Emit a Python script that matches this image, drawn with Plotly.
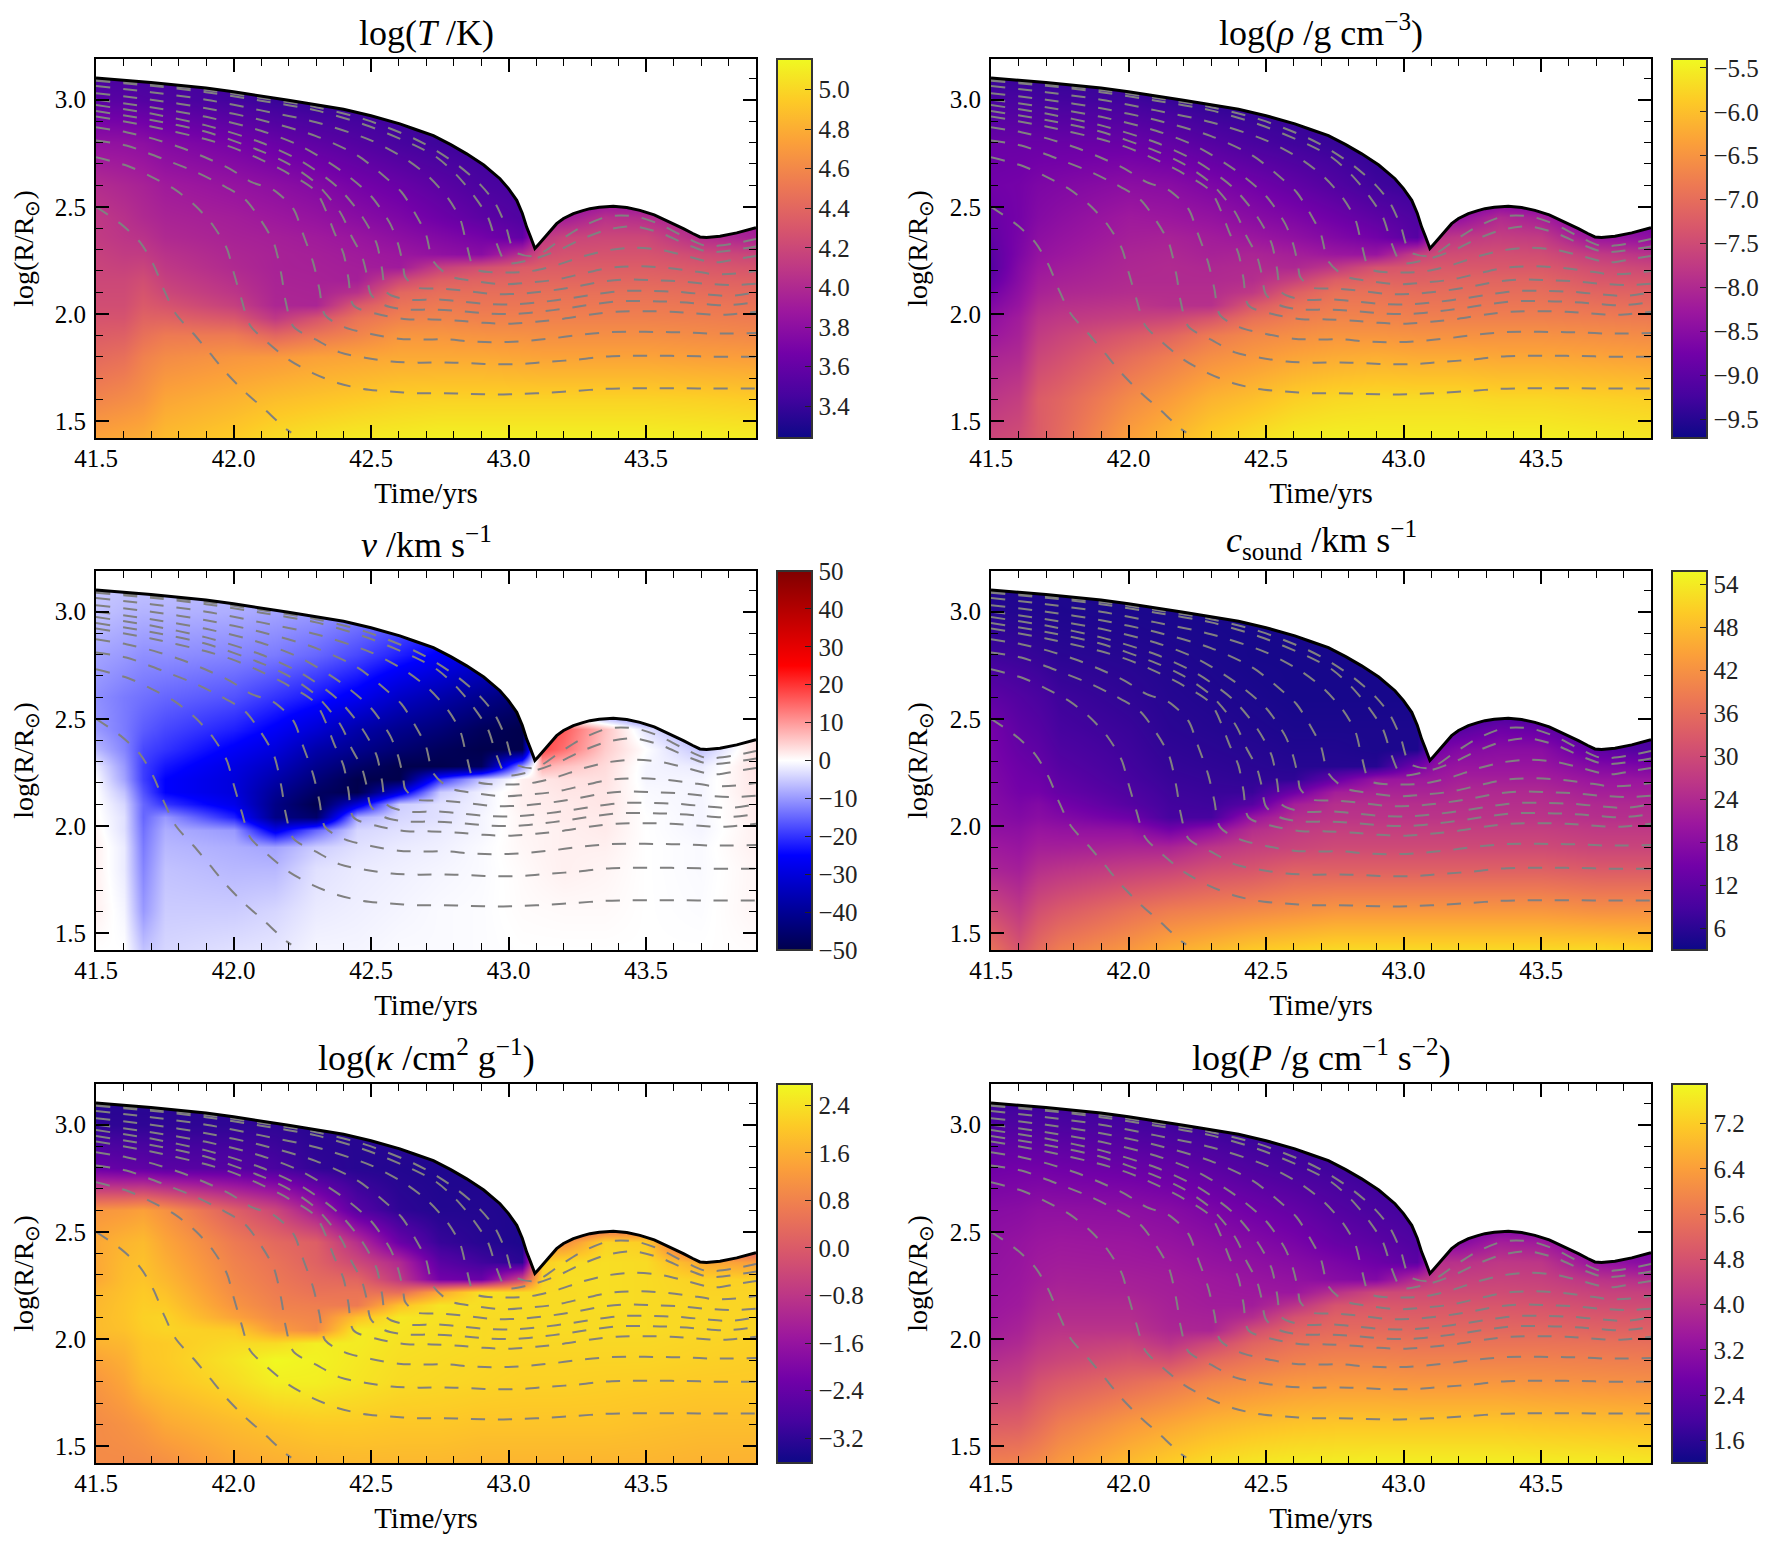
import plotly.graph_objects as go

# shared grid of the colour maps
time_grid = [41.5, 41.6, 41.67, 41.75, 42.0, 42.15, 42.3, 42.45, 42.6, 42.75, 42.9, 43.05, 43.12, 43.2, 43.35, 43.5, 43.7, 43.9]
radius_grid = [1.42, 1.6, 1.8, 1.9, 1.98, 2.04, 2.1, 2.16, 2.22, 2.28, 2.36, 2.45, 2.6, 2.8, 3.0, 3.19]

log_t = [
    [4.75, 4.78, 4.80, 4.87, 4.95, 5.02, 5.06, 5.09, 5.10, 5.12, 5.12, 5.12, 5.12, 5.12, 5.12, 5.12, 5.11, 5.10],
    [4.58, 4.62, 4.66, 4.76, 4.83, 4.88, 4.91, 4.94, 4.97, 4.98, 4.98, 4.98, 4.98, 4.98, 4.98, 4.98, 4.97, 4.95],
    [4.42, 4.46, 4.56, 4.62, 4.68, 4.70, 4.74, 4.76, 4.78, 4.78, 4.78, 4.76, 4.75, 4.75, 4.75, 4.75, 4.73, 4.72],
    [4.34, 4.36, 4.46, 4.52, 4.52, 4.40, 4.50, 4.58, 4.68, 4.68, 4.66, 4.65, 4.64, 4.64, 4.64, 4.64, 4.62, 4.60],
    [4.28, 4.28, 4.38, 4.38, 4.30, 4.10, 4.28, 4.48, 4.56, 4.58, 4.56, 4.56, 4.56, 4.56, 4.56, 4.56, 4.55, 4.53],
    [4.24, 4.24, 4.32, 4.28, 4.15, 3.98, 3.97, 4.32, 4.48, 4.52, 4.50, 4.50, 4.51, 4.51, 4.51, 4.51, 4.50, 4.48],
    [4.22, 4.22, 4.28, 4.20, 4.08, 3.97, 3.96, 4.05, 4.40, 4.45, 4.45, 4.45, 4.46, 4.46, 4.46, 4.46, 4.44, 4.42],
    [4.20, 4.20, 4.24, 4.15, 4.04, 3.96, 3.95, 3.93, 4.20, 4.36, 4.38, 4.39, 4.40, 4.40, 4.40, 4.40, 4.38, 4.36],
    [4.18, 4.16, 4.18, 4.10, 4.00, 3.95, 3.94, 3.92, 3.90, 4.15, 4.25, 4.33, 4.34, 4.34, 4.34, 4.34, 4.31, 4.28],
    [4.16, 4.12, 4.12, 4.06, 3.98, 3.95, 3.93, 3.90, 3.87, 3.82, 3.78, 4.05, 4.24, 4.27, 4.28, 4.28, 4.22, 4.18],
    [4.12, 4.08, 4.06, 4.00, 3.95, 3.93, 3.90, 3.86, 3.80, 3.74, 3.68, 3.58, 4.10, 4.18, 4.20, 4.20, 4.02, 3.95],
    [4.10, 4.05, 4.00, 3.96, 3.92, 3.88, 3.84, 3.78, 3.72, 3.64, 3.56, 3.50, 3.90, 3.90, 4.05, 4.02, 3.90, 3.85],
    [4.02, 3.98, 3.95, 3.90, 3.84, 3.80, 3.75, 3.68, 3.62, 3.55, 3.48, 3.45, 3.60, 3.60, 3.60, 3.60, 3.60, 3.60],
    [3.83, 3.82, 3.80, 3.75, 3.68, 3.62, 3.57, 3.52, 3.46, 3.42, 3.40, 3.40, 3.40, 3.40, 3.40, 3.40, 3.40, 3.40],
    [3.55, 3.54, 3.52, 3.50, 3.44, 3.40, 3.38, 3.38, 3.38, 3.38, 3.38, 3.38, 3.38, 3.38, 3.38, 3.38, 3.38, 3.38],
    [3.40, 3.40, 3.40, 3.40, 3.40, 3.40, 3.40, 3.40, 3.40, 3.40, 3.40, 3.40, 3.40, 3.40, 3.40, 3.40, 3.40, 3.40],
]
log_rho = [
    [-7.56, -7.47, -7.25, -7.04, -6.35, -6.09, -5.83, -5.66, -5.53, -5.49, -5.49, -5.49, -5.49, -5.49, -5.49, -5.49, -5.53, -5.57],
    [-7.81, -7.68, -7.25, -7.12, -6.61, -6.39, -6.13, -6.0, -5.83, -5.74, -5.7, -5.7, -5.7, -5.7, -5.74, -5.74, -5.79, -5.83],
    [-8.07, -7.99, -7.56, -7.43, -7.0, -6.78, -6.56, -6.43, -6.3, -6.22, -6.18, -6.22, -6.22, -6.22, -6.26, -6.26, -6.3, -6.35],
    [-8.29, -8.12, -7.73, -7.6, -7.3, -7.12, -6.82, -6.65, -6.56, -6.48, -6.48, -6.52, -6.52, -6.52, -6.52, -6.52, -6.56, -6.61],
    [-8.42, -8.2, -7.86, -7.77, -7.64, -7.56, -7.34, -6.95, -6.78, -6.69, -6.69, -6.74, -6.74, -6.74, -6.74, -6.74, -6.78, -6.82],
    [-8.59, -8.33, -7.99, -7.9, -7.81, -7.9, -7.9, -7.3, -6.95, -6.82, -6.82, -6.87, -6.87, -6.87, -6.87, -6.87, -6.95, -7.0],
    [-8.76, -8.42, -8.12, -8.03, -7.94, -7.94, -7.94, -7.77, -7.21, -6.95, -6.95, -7.0, -7.0, -7.0, -7.0, -7.0, -7.12, -7.17],
    [-8.93, -8.5, -8.2, -8.12, -7.99, -7.99, -7.99, -7.94, -7.64, -7.21, -7.12, -7.17, -7.14, -7.12, -7.12, -7.12, -7.3, -7.34],
    [-9.06, -8.55, -8.29, -8.2, -8.03, -7.99, -8.03, -7.99, -8.03, -7.77, -7.38, -7.3, -7.3, -7.3, -7.3, -7.3, -7.47, -7.56],
    [-9.02, -8.63, -8.37, -8.29, -8.07, -8.03, -8.12, -8.07, -8.16, -8.29, -8.33, -7.64, -7.5, -7.47, -7.43, -7.47, -7.73, -7.86],
    [-8.93, -8.67, -8.46, -8.37, -8.16, -8.12, -8.2, -8.29, -8.42, -8.59, -8.76, -9.06, -7.85, -7.77, -7.68, -7.73, -8.33, -8.42],
    [-8.85, -8.72, -8.55, -8.46, -8.24, -8.29, -8.37, -8.5, -8.63, -8.8, -8.98, -9.15, -8.42, -8.42, -7.99, -8.16, -8.85, -8.85],
    [-8.76, -8.72, -8.63, -8.59, -8.46, -8.5, -8.63, -8.76, -8.93, -9.1, -9.28, -9.36, -9.3, -9.3, -9.3, -9.3, -9.3, -9.3],
    [-8.85, -8.85, -8.85, -8.85, -8.85, -8.93, -9.06, -9.19, -9.28, -9.36, -9.45, -9.45, -9.45, -9.45, -9.45, -9.45, -9.45, -9.45],
    [-9.19, -9.19, -9.24, -9.24, -9.28, -9.36, -9.45, -9.45, -9.45, -9.45, -9.45, -9.45, -9.45, -9.45, -9.45, -9.45, -9.45, -9.45],
    [-9.5, -9.5, -9.5, -9.5, -9.5, -9.5, -9.5, -9.5, -9.5, -9.5, -9.5, -9.5, -9.5, -9.5, -9.5, -9.5, -9.5, -9.5],
]
velocity = [
    [0, 0, -6, -4, -3, -2.5, -1, -1, -0.5, -0.5, -0.3, 0, 0, 0, 0, 0, 0, 0.3],
    [1.5, -1, -10, -5, -5, -4, -2, -1.5, -1, -0.5, -0.3, 0.3, 0.4, 0.5, 0.5, 0, -0.3, 1],
    [1.5, -2, -12, -6, -7, -7, -3, -2, -1.5, -1, -0.5, 0.5, 1, 1.5, 1, 0, -0.5, 1],
    [1.5, -2, -13, -7, -8, -9, -5, -3, -2, -1.5, -0.5, 0.8, 1.2, 1.5, 1.5, 0, -0.5, 1.5],
    [1, -3, -14, -8, -10, -28, -15, -4, -3, -2, -1, 1, 1.2, 1.5, 2, 0, -1, 1.5],
    [0.5, -3, -15, -10, -22, -42, -46, -8, -4, -3, -1, 1, 1.5, 2, 2, 0, -1, 2],
    [0.3, -4, -15, -20, -28, -42, -50, -30, -5, -3, -1.5, 1.5, 1.8, 2, 2.5, -0.3, -1, 2],
    [0, -6, -17, -25, -30, -40, -47, -50, -30, -5, -1.5, 1.5, 2, 2.5, 2.5, -0.5, -1, 2.5],
    [-0.5, -9, -19, -25, -30, -37, -44, -50, -50, -20, -6, 1.5, 2.5, 3, 3, -1, -1, 2.5],
    [-2, -10, -19, -23, -29, -34, -41, -46, -50, -50, -48, -10, 8, 6, 3.5, -1, -2, 3],
    [-7, -12, -18, -20, -26, -30, -37, -41, -45, -48, -50, -50, 18, 14, 5, 0, -6, 3],
    [-10, -13, -16, -18, -22, -26, -31, -37, -41, -44, -48, -50, 20, 16, 6, -3, -10, 3],
    [-11, -13, -14, -15, -17, -20, -23, -27, -33, -37, -41, -45, -30, -30, -30, -30, -30, -30],
    [-9, -10, -11, -11, -12, -13, -15, -18, -22, -26, -30, -30, -30, -30, -30, -30, -30, -30],
    [-6, -7, -7.5, -7.5, -8, -9, -10, -12, -14, -18, -22, -22, -22, -22, -22, -22, -22, -22],
    [-5, -5, -5, -5, -6, -7, -8, -9, -10, -10, -10, -10, -10, -10, -10, -10, -10, -10],
]
c_sound = [
    [37, 32, 36, 39, 43, 46, 48, 50, 51, 52, 52, 52, 52, 52, 52, 52, 52, 51],
    [30, 27, 31, 33, 37, 39, 40, 41, 42, 43, 43, 43, 43, 43, 43, 43, 42, 42],
    [23, 22, 25, 26, 28, 29, 31, 32, 34, 34, 34, 34, 34, 34, 34, 34, 33, 33],
    [21, 20, 22, 22, 23, 23, 26, 28, 29, 30, 30, 30, 30, 30, 30, 30, 29, 29],
    [19, 18.5, 20, 19.5, 19, 15, 19, 25, 27, 28, 28, 28, 28, 28, 28, 28, 27, 27],
    [18, 17, 18, 17, 14, 9, 9, 20, 25, 26, 26, 26, 26, 26, 26, 26, 25, 25],
    [17.5, 16, 17, 15, 11, 8.5, 8, 11, 22, 25, 25, 25, 25, 25, 25, 25, 24, 24],
    [17, 15, 15, 13, 10, 8, 7.5, 7.5, 14, 22, 23, 23, 23, 24, 24, 24, 22, 22],
    [16.5, 14.5, 14, 12, 9, 7.5, 7, 6.5, 6.5, 13, 20, 21, 21, 22, 22, 22, 20, 20],
    [16, 14, 13, 11, 8.5, 7, 6.5, 6, 5.5, 5.5, 5.5, 15, 19, 20, 20, 20, 17, 16],
    [15.5, 13, 12, 10, 8, 6.5, 6, 5.5, 5, 5, 4.5, 4.5, 15, 17, 18, 18, 12, 10],
    [15, 12, 11, 9, 7.5, 6, 5.5, 5, 4.5, 4.5, 4.5, 4.5, 11, 11, 14, 13, 8, 8],
    [12, 10.5, 9.5, 8, 6.5, 5.5, 5, 4.5, 4, 4, 4, 4, 4, 4, 4, 4, 4, 4],
    [8, 7.5, 7, 6, 5.5, 5, 4.5, 4, 4, 4, 4, 4, 4, 4, 4, 4, 4, 4],
    [5.5, 5.2, 5, 4.8, 4.5, 4.3, 4, 4, 4, 4, 4, 4, 4, 4, 4, 4, 4, 4],
    [4.5, 4.5, 4.5, 4.5, 4, 4, 4, 4, 4, 4, 4, 4, 4, 4, 4, 4, 4, 4],
]
log_kappa = [
    [0.97, 0.95, 0.97, 1.05, 1.48, 1.6, 1.7, 1.75, 1.75, 1.75, 1.7, 1.7, 1.7, 1.7, 1.7, 1.7, 1.65, 1.65],
    [0.97, 1.1, 1.25, 1.5, 1.8, 1.95, 2.05, 2.05, 2.0, 2.0, 1.95, 1.95, 1.95, 1.95, 1.95, 1.9, 1.85, 1.85],
    [1.17, 1.45, 1.8, 1.95, 2.31, 2.6, 2.6, 2.45, 2.3, 2.25, 2.2, 2.15, 2.15, 2.15, 2.12, 2.1, 2.05, 2.05],
    [1.4, 1.6, 1.95, 2.05, 2.45, 2.75, 2.65, 2.5, 2.35, 2.3, 2.25, 2.2, 2.2, 2.2, 2.2, 2.2, 2.15, 2.1],
    [1.65, 1.75, 2.0, 2.05, 2.3, 2.3, 2.6, 2.55, 2.4, 2.35, 2.3, 2.25, 2.25, 2.25, 2.25, 2.25, 2.2, 2.15],
    [1.8, 1.9, 2.1, 2.2, 2.1, 1.3, 0.97, 2.55, 2.45, 2.35, 2.3, 2.28, 2.3, 2.3, 2.3, 2.3, 2.25, 2.2],
    [1.8, 1.95, 2.15, 2.2, 1.4, 0.97, 0.85, 1.9, 2.5, 2.4, 2.3, 2.3, 2.3, 2.3, 2.3, 2.3, 2.25, 2.2],
    [1.75, 1.95, 2.1, 2.05, 1.15, 0.8, 0.72, 0.65, 1.9, 2.45, 2.35, 2.3, 2.3, 2.3, 2.35, 2.3, 2.25, 2.2],
    [1.7, 1.9, 2.05, 1.9, 1.0, 0.7, 0.5, 0.53, 0.4, 1.48, 2.4, 2.3, 2.3, 2.3, 2.35, 2.3, 2.2, 2.2],
    [1.48, 1.85, 1.95, 1.75, 0.9, 0.6, 0.34, 0.21, -0.75, -2.2, -2.35, -0.4, 2.2, 2.35, 2.35, 2.3, 2.15, 2.15],
    [1.48, 1.8, 1.9, 1.6, 0.8, 0.5, 0.15, -0.4, -1.07, -2.6, -2.98, -3.25, 2.1, 2.3, 2.35, 2.3, 1.5, 1.3],
    [1.48, 1.7, 1.8, 1.45, 0.65, 0.3, 0.08, -0.95, -2.34, -3.1, -3.3, -3.43, 1.0, 1.0, 2.2, 2.1, -1, -1],
    [1.17, 1.25, 1.36, 1.1, 0.1, -0.43, -1.4, -2.66, -3.2, -3.35, -3.35, -3.4, -2, -2, -2, -2, -2, -2],
    [-2.34, -2.45, -2.47, -2.6, -2.66, -2.85, -3.17, -3.3, -3.35, -3.4, -3.4, -3.4, -3.4, -3.4, -3.4, -3.4, -3.4, -3.4],
    [-3.2, -3.2, -3.2, -3.2, -3.2, -3.2, -3.3, -3.3, -3.3, -3.3, -3.3, -3.3, -3.3, -3.3, -3.3, -3.3, -3.3, -3.3],
    [-3.4, -3.4, -3.4, -3.4, -3.4, -3.4, -3.4, -3.4, -3.4, -3.4, -3.4, -3.4, -3.4, -3.4, -3.4, -3.4, -3.4, -3.4],
]
log_p = [
    [5.8, 5.85, 6.0, 6.3, 6.9, 7.2, 7.45, 7.6, 7.7, 7.72, 7.75, 7.75, 7.75, 7.75, 7.75, 7.72, 7.7, 7.65],
    [5.05, 5.1, 5.4, 5.75, 6.3, 6.55, 6.8, 6.95, 7.05, 7.1, 7.1, 7.1, 7.1, 7.1, 7.1, 7.05, 7.0, 6.95],
    [4.3, 4.4, 4.8, 5.0, 5.4, 5.65, 5.95, 6.1, 6.25, 6.3, 6.3, 6.25, 6.25, 6.25, 6.25, 6.2, 6.15, 6.1],
    [3.95, 4.1, 4.4, 4.55, 4.85, 4.75, 5.3, 5.6, 5.8, 5.9, 5.9, 5.85, 5.85, 5.85, 5.85, 5.85, 5.8, 5.75],
    [3.7, 3.85, 4.15, 4.3, 4.45, 4.1, 4.6, 5.2, 5.5, 5.6, 5.6, 5.55, 5.55, 5.55, 5.55, 5.55, 5.5, 5.45],
    [3.55, 3.7, 4.0, 4.1, 4.1, 3.8, 3.75, 4.7, 5.2, 5.35, 5.35, 5.3, 5.3, 5.3, 5.3, 5.3, 5.2, 5.15],
    [3.45, 3.6, 3.85, 3.95, 3.95, 3.7, 3.65, 3.95, 4.8, 5.15, 5.15, 5.1, 5.1, 5.1, 5.1, 5.05, 4.95, 4.9],
    [3.4, 3.5, 3.75, 3.85, 3.85, 3.65, 3.55, 3.55, 4.1, 4.85, 4.95, 4.9, 4.9, 4.9, 4.9, 4.85, 4.7, 4.65],
    [3.35, 3.45, 3.65, 3.75, 3.7, 3.6, 3.5, 3.45, 3.4, 4.05, 4.6, 4.65, 4.65, 4.65, 4.65, 4.6, 4.45, 4.4],
    [3.3, 3.4, 3.55, 3.65, 3.62, 3.55, 3.45, 3.35, 3.25, 3.05, 2.95, 4.0, 4.35, 4.4, 4.45, 4.4, 4.1, 3.95],
    [3.25, 3.35, 3.5, 3.55, 3.5, 3.45, 3.3, 3.2, 3.05, 2.85, 2.6, 2.3, 4.0, 4.05, 4.2, 4.15, 3.3, 3.05],
    [3.2, 3.3, 3.4, 3.45, 3.4, 3.3, 3.15, 3.0, 2.8, 2.5, 2.3, 2.1, 3.0, 3.0, 3.6, 3.5, 2.7, 2.6],
    [3.05, 3.1, 3.2, 3.2, 3.15, 3.05, 2.85, 2.65, 2.45, 2.2, 2.0, 1.9, 2.0, 2.0, 2.0, 2.0, 2.0, 2.0],
    [2.65, 2.7, 2.7, 2.65, 2.55, 2.45, 2.3, 2.1, 1.95, 1.85, 1.75, 1.75, 1.75, 1.75, 1.75, 1.75, 1.75, 1.75],
    [2.1, 2.1, 2.05, 2.05, 1.95, 1.85, 1.75, 1.65, 1.65, 1.65, 1.65, 1.65, 1.65, 1.65, 1.65, 1.65, 1.65, 1.65],
    [1.6, 1.6, 1.6, 1.6, 1.6, 1.6, 1.6, 1.6, 1.6, 1.6, 1.6, 1.6, 1.6, 1.6, 1.6, 1.6, 1.6, 1.6],
]

# photosphere
surface_t = [41.5, 41.7, 41.9, 42.0, 42.2, 42.3, 42.4, 42.5, 42.605, 42.66, 42.727, 42.79, 42.848, 42.91, 42.969, 43.0, 43.03,
             43.05, 43.066, 43.08, 43.096, 43.11, 43.127, 43.15, 43.175, 43.2, 43.236, 43.27, 43.296, 43.33, 43.381, 43.43, 43.478,
             43.53, 43.575, 43.6, 43.636, 43.67, 43.696, 43.72, 43.769, 43.83, 43.9]
surface_r = [3.101, 3.08, 3.055, 3.037, 2.997, 2.977, 2.955, 2.925, 2.887, 2.862, 2.832, 2.79, 2.747, 2.695, 2.631, 2.585, 2.53,
             2.47, 2.405, 2.36, 2.305, 2.325, 2.351, 2.385, 2.421, 2.445, 2.468, 2.482, 2.491, 2.498, 2.502, 2.496, 2.483,
             2.462, 2.436, 2.42, 2.398, 2.375, 2.359, 2.356, 2.362, 2.378, 2.402]

# mass shells, innermost first
shell0_t = [41.5, 41.59, 41.66, 41.71, 41.745, 41.79, 41.854, 41.915, 41.975, 42.04, 42.115, 42.187, 42.21]
shell0_r = [2.5, 2.42, 2.335, 2.227, 2.118, 2.0, 1.908, 1.815, 1.722, 1.637, 1.552, 1.466, 1.445]
shell1_t = [41.5, 41.618, 41.7, 41.785, 41.864, 41.927, 41.976, 41.999, 42.03, 42.06, 42.127, 42.203, 42.29, 42.381,
            42.472, 42.57, 42.666, 42.763, 42.86, 42.957, 43.05, 43.15, 43.247, 43.344, 43.441, 43.538, 43.635, 43.732, 43.9]
shell1_r = [2.731, 2.689, 2.641, 2.582, 2.501, 2.41, 2.304, 2.2, 2.064, 1.947, 1.862, 1.784, 1.722, 1.676,
            1.649, 1.637, 1.629, 1.629, 1.626, 1.623, 1.626, 1.632, 1.64, 1.649, 1.652, 1.652, 1.652, 1.651, 1.651]
shell2_t = [41.5, 41.61, 41.69, 41.775, 41.866, 41.95, 42.04, 42.1, 42.147, 42.175, 42.19, 42.218, 42.302, 42.387,
            42.478, 42.575, 42.672, 42.77, 42.865, 42.96, 43.06, 43.157, 43.25, 43.35, 43.447, 43.545, 43.64, 43.74, 43.9]
shell2_r = [2.809, 2.786, 2.75, 2.708, 2.661, 2.607, 2.537, 2.436, 2.33, 2.176, 2.056, 1.94, 1.878, 1.82,
            1.795, 1.777, 1.772, 1.773, 1.769, 1.764, 1.767, 1.777, 1.786, 1.8, 1.804, 1.804, 1.803, 1.8, 1.8]
shell3_t = [41.5, 41.61, 41.71, 41.805, 41.896, 41.987, 42.066, 42.145, 42.218, 42.248, 42.29, 42.312, 42.333, 42.405,
            42.5, 42.6, 42.69, 42.77, 42.865, 42.96, 43.06, 43.157, 43.25, 43.35, 43.447, 43.545, 43.64, 43.74, 43.9]
shell3_r = [2.871, 2.848, 2.817, 2.778, 2.731, 2.677, 2.615, 2.579, 2.49, 2.39, 2.238, 2.118, 1.994, 1.937,
            1.906, 1.884, 1.88, 1.881, 1.871, 1.867, 1.873, 1.885, 1.9, 1.913, 1.916, 1.915, 1.913, 1.908, 1.91]
shell4_t = [41.5, 41.7, 41.9, 42.0, 42.1, 42.2, 42.3, 42.37, 42.4, 42.418, 42.436, 42.52, 42.63, 42.72, 42.82, 42.91,
            43.0, 43.1, 43.2, 43.3, 43.393, 43.49, 43.59, 43.68, 43.78, 43.9]
shell4_r = [2.922, 2.875, 2.815, 2.775, 2.72, 2.655, 2.57, 2.37, 2.281, 2.165, 2.04, 2.0, 1.975, 1.974, 1.968, 1.958,
            1.954, 1.963, 1.977, 1.997, 2.01, 2.012, 2.01, 2.002, 1.995, 2.01]
shell5_t = [41.5, 41.7, 41.9, 42.1, 42.2, 42.3, 42.39, 42.43, 42.466, 42.484, 42.5, 42.55, 42.63, 42.726, 42.82, 42.92,
            43.02, 43.114, 43.21, 43.31, 43.405, 43.5, 43.6, 43.695, 43.79, 43.9]
shell5_r = [2.947, 2.905, 2.85, 2.76, 2.7, 2.61, 2.47, 2.36, 2.273, 2.188, 2.09, 2.04, 2.02, 2.02, 2.013, 2.002,
            1.999, 2.01, 2.025, 2.045, 2.059, 2.059, 2.056, 2.048, 2.04, 2.055]
shell6_t = [41.5, 41.7, 41.9, 42.1, 42.25, 42.38, 42.47, 42.52, 42.54, 42.557, 42.63, 42.74, 42.835, 42.93,
            43.03, 43.126, 43.22, 43.32, 43.417, 43.514, 43.61, 43.71, 43.805, 43.9]
shell6_r = [2.975, 2.935, 2.88, 2.8, 2.71, 2.59, 2.45, 2.33, 2.21, 2.1, 2.067, 2.067, 2.056, 2.045,
            2.045, 2.056, 2.072, 2.092, 2.107, 2.107, 2.103, 2.092, 2.084, 2.1]
shell7_t = [41.5, 41.7, 41.9, 42.1, 42.25, 42.4, 42.5, 42.57, 42.6, 42.617, 42.624, 42.666, 42.756, 42.853, 42.95,
            43.05, 43.144, 43.24, 43.34, 43.43, 43.526, 43.62, 43.72, 43.82, 43.9]
shell7_r = [3.0, 2.965, 2.92, 2.855, 2.78, 2.66, 2.55, 2.42, 2.32, 2.224, 2.173, 2.123, 2.118, 2.106, 2.092,
            2.095, 2.107, 2.126, 2.15, 2.16, 2.157, 2.152, 2.14, 2.134, 2.14]
shell8_t = [41.5, 41.7, 41.9, 42.1, 42.3, 42.45, 42.55, 42.61, 42.66, 42.7, 42.726, 42.787, 42.884, 42.98, 43.078,
            43.175, 43.27, 43.363, 43.46, 43.56, 43.653, 43.75, 43.85, 43.9]
shell8_r = [3.03, 3.0, 2.96, 2.905, 2.83, 2.74, 2.64, 2.57, 2.47, 2.37, 2.247, 2.176, 2.152, 2.138, 2.146,
            2.16, 2.188, 2.214, 2.222, 2.216, 2.203, 2.185, 2.191, 2.2]
shell9_t = [41.5, 41.7, 41.9, 42.1, 42.3, 42.5, 42.63, 42.71, 42.78, 42.825, 42.85, 42.878, 42.99, 43.084, 43.175,
            43.265, 43.363, 43.46, 43.56, 43.65, 43.745, 43.84, 43.9]
shell9_r = [3.064, 3.035, 3.0, 2.95, 2.895, 2.81, 2.72, 2.64, 2.54, 2.44, 2.312, 2.21, 2.193, 2.2, 2.227,
            2.266, 2.297, 2.309, 2.297, 2.269, 2.24, 2.258, 2.27]
shell10_t = [41.5, 41.7, 41.9, 42.1, 42.3, 42.48, 42.654, 42.74, 42.81, 42.875, 42.926, 42.956, 42.993, 43.096, 43.187,
             43.27, 43.363, 43.46, 43.56, 43.64, 43.73, 43.83, 43.9]
shell10_r = [3.088, 3.065, 3.035, 2.995, 2.95, 2.882, 2.79, 2.73, 2.65, 2.55, 2.449, 2.331, 2.239, 2.258, 2.3,
             2.351, 2.394, 2.408, 2.374, 2.328, 2.289, 2.3, 2.315]
shell11_t = [41.5, 41.7, 41.9, 42.1, 42.3, 42.48, 42.654, 42.74, 42.82, 42.9, 42.95, 42.99, 43.023, 43.096, 43.187,
             43.265, 43.363, 43.46, 43.545, 43.635, 43.72, 43.82, 43.9]
shell11_r = [3.095, 3.072, 3.045, 3.008, 2.965, 2.907, 2.82, 2.76, 2.69, 2.6, 2.52, 2.41, 2.29, 2.27, 2.343,
             2.405, 2.455, 2.455, 2.421, 2.363, 2.317, 2.328, 2.35]

shells = [(shell0_t, shell0_r), (shell1_t, shell1_r), (shell2_t, shell2_r), (shell3_t, shell3_r),
          (shell4_t, shell4_r), (shell5_t, shell5_r), (shell6_t, shell6_r), (shell7_t, shell7_r),
          (shell8_t, shell8_r), (shell9_t, shell9_r), (shell10_t, shell10_r), (shell11_t, shell11_r)]

t_ticks = [3.4, 3.6, 3.8, 4.0, 4.2, 4.4, 4.6, 4.8, 5.0]
rho_ticks = [-9.5, -9.0, -8.5, -8.0, -7.5, -7.0, -6.5, -6.0, -5.5]
v_ticks = [-50, -40, -30, -20, -10, 0, 10, 20, 30, 40, 50]
cs_ticks = [6, 12, 18, 24, 30, 36, 42, 48, 54]
kappa_ticks = [-3.2, -2.4, -1.6, -0.8, 0.0, 0.8, 1.6, 2.4]
p_ticks = [1.6, 2.4, 3.2, 4.0, 4.8, 5.6, 6.4, 7.2]

seismic = [[0, "rgb(0,0,77)"], [0.25, "rgb(0,0,255)"], [0.5, "rgb(255,255,255)"], [0.75, "rgb(255,0,0)"], [1, "rgb(128,0,0)"]]

panels = [
    ("log(<i>T</i> /K)", log_t, 3.24, 5.154, "Plasma", t_ticks, ".1f"),
    ("log(<i>ρ</i> /g cm<sup>−3</sup>)", log_rho, -9.71, -5.4, "Plasma", rho_ticks, ".1f"),
    ("<i>v</i> /km s<sup>−1</sup>", velocity, -50, 50, seismic, v_ticks, "d"),
    ("<i>c</i><sub>sound</sub> /km s<sup>−1</sup>", c_sound, 2.98, 55.9, "Plasma", cs_ticks, "d"),
    ("log(<i>κ</i> /cm<sup>2</sup> g<sup>−1</sup>)", log_kappa, -3.62, 2.76, "Plasma", kappa_ticks, ".1f"),
    ("log(<i>P</i> /g cm<sup>−1</sup> s<sup>−2</sup>)", log_p, 1.2, 7.9, "Plasma", p_ticks, ".1f"),
]

W, H = 1785, 1552
FONT = "Liberation Serif"
# the page body adds 8 px on the left and top
lefts = [88, 983]
tops = [51, 563, 1076]
PW, PH = 660, 379

fig = go.Figure()
layout = dict(
    width=W, height=H, margin=dict(l=0, r=0, t=0, b=0, autoexpand=False), paper_bgcolor="white", plot_bgcolor="white",
    showlegend=False, font=dict(family=FONT, size=24, color="black"), annotations=[],
)

for i, (title, table, zmin, zmax, cmap, cticks, cfmt) in enumerate(panels):
    n = "" if i == 0 else str(i + 1)
    left = lefts[i % 2]
    top = tops[i // 2]
    fig.add_trace(go.Heatmap(
        x=time_grid, y=radius_grid, z=table, zmin=zmin, zmax=zmax, colorscale=cmap, zsmooth="best",
        xaxis="x" + n, yaxis="y" + n, hoverinfo="skip",
        colorbar=dict(
            x=(left + 681) / W, xanchor="left", xpad=0, ypad=0, thickness=35,
            y=1 - (top + PH / 2) / H, yanchor="middle", len=PH / H, lenmode="fraction",
            tickvals=cticks, tickformat=cfmt, ticks="inside", ticklen=8, tickwidth=1.3, tickcolor="#222",
            outlinewidth=2, outlinecolor="#333", tickfont=dict(family=FONT, size=25, color="#222"),
        ),
    ))
    for st, sr in shells:
        fig.add_trace(go.Scatter(x=st, y=sr, mode="lines", xaxis="x" + n, yaxis="y" + n, hoverinfo="skip",
                                 line=dict(color="#808080", width=2, dash="14px,13px", shape="spline", smoothing=0.8)))
    fig.add_trace(go.Scatter(
        x=surface_t + surface_t[::-1], y=surface_r + [3.19] * len(surface_t), mode="lines", fill="toself",
        fillcolor="white", line=dict(width=0), xaxis="x" + n, yaxis="y" + n, hoverinfo="skip"))
    fig.add_trace(go.Scatter(x=surface_t, y=surface_r, mode="lines", xaxis="x" + n, yaxis="y" + n,
                             hoverinfo="skip", line=dict(color="black", width=3)))
    layout["xaxis" + n] = dict(
        domain=[left / W, (left + PW) / W], range=[41.5, 43.9], anchor="y" + n, tickvals=[41.5, 42.0, 42.5, 43.0, 43.5],
        tickformat=".1f", ticks="inside", ticklen=13, tickwidth=1.6, tickcolor="black", mirror="allticks",
        showline=True, linewidth=2.2, linecolor="black", showgrid=False, zeroline=False, ticklabelstandoff=-3,
        minor=dict(dtick=0.1, tick0=41.5, ticks="inside", ticklen=7, tickwidth=1.3, tickcolor="black", showgrid=False),
        tickfont=dict(family=FONT, size=25), title=dict(text="Time/yrs", font=dict(family=FONT, size=29), standoff=12),
        automargin=False,
    )
    layout["yaxis" + n] = dict(
        domain=[1 - (top + PH) / H, 1 - top / H], range=[1.42, 3.19], anchor="x" + n, tickvals=[1.5, 2.0, 2.5, 3.0],
        tickformat=".1f", ticks="inside", ticklen=13, tickwidth=1.6, tickcolor="black", mirror="allticks",
        showline=True, linewidth=2.2, linecolor="black", showgrid=False, zeroline=False, ticklabelstandoff=3,
        minor=dict(dtick=0.1, tick0=1.5, ticks="inside", ticklen=7, tickwidth=1.3, tickcolor="black", showgrid=False),
        tickfont=dict(family=FONT, size=25), title=dict(text="log(R/R<sub>⊙</sub>)", font=dict(family=FONT, size=28), standoff=14),
        automargin=False,
    )
    layout["annotations"].append(dict(
        text=title, x=(left + PW / 2) / W, y=1 - (top - 4) / H, xref="paper", yref="paper", xanchor="center",
        yanchor="bottom", showarrow=False, font=dict(family=FONT, size=36),
    ))

fig.update_layout(**layout)
fig.write_html("out.html")
